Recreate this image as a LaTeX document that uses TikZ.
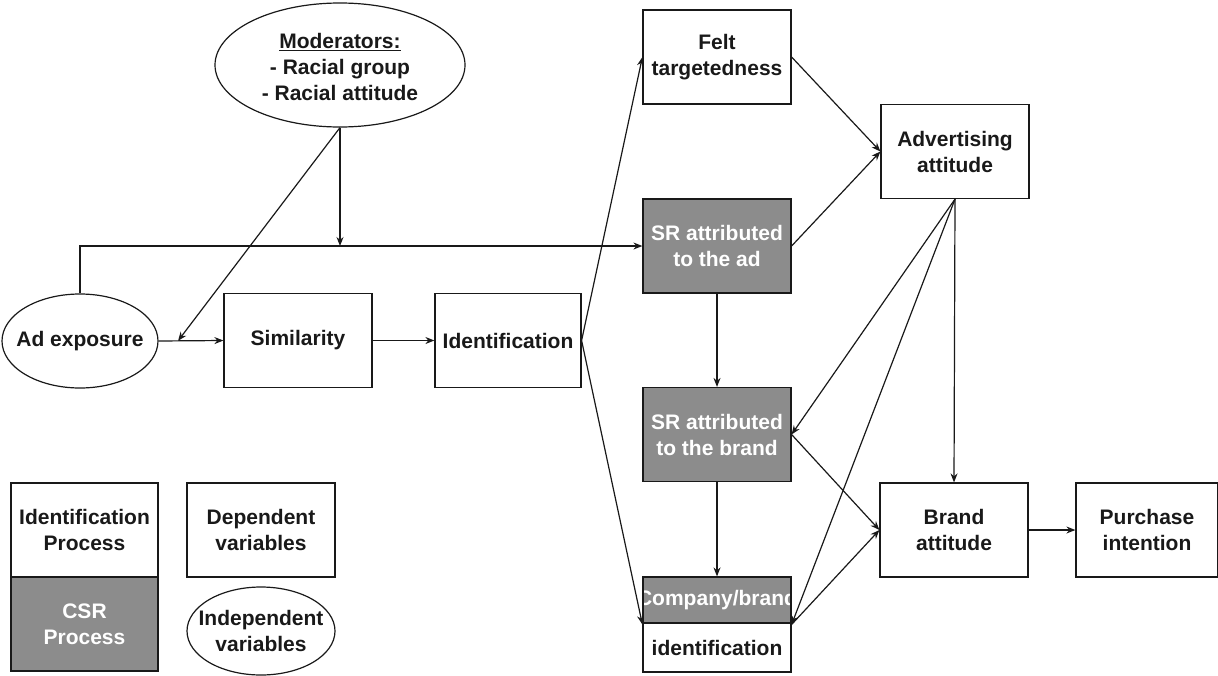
\documentclass[tikz,border=0pt]{standalone}
\usepackage{fontspec}
\setmainfont{Liberation Sans}
\usetikzlibrary{shapes.geometric,arrows.meta,calc}
\definecolor{boxgray}{RGB}{140,140,140}
\definecolor{ink}{RGB}{25,25,25}
\begin{document}
\begin{tikzpicture}[x=1pt,y=-1pt,
  font=\fontsize{21}{26}\selectfont\bfseries,
  every node/.style={text=ink},
  box/.style={draw=ink, line width=1.2pt, rectangle, minimum width=148pt, minimum height=94pt, inner sep=0pt, align=center},
  shaded/.style={box, fill=boxgray, text=white},
  oval/.style={draw=ink, line width=1.2pt, ellipse, inner sep=0pt},
  label/.style={align=center, inner sep=0pt},
  link/.style={draw=ink, line width=1.2pt, -{Stealth[length=9pt,width=7pt]}},
  plain/.style={draw=ink, line width=1.2pt}]
\useasboundingbox (0,0) rectangle (1218,675);

% main model (ovals drawn empty, their texts set on top)
\node[oval, minimum width=250pt, minimum height=124pt] (mod) at (340,65) {};
\node[label] (modtext) at (340,67)
  {\underline{Moderators:}\\- Racial group\\- Racial attitude};
\node[oval, minimum width=156pt, minimum height=94pt] (adexp) at (80,341) {};
\node[label] (adexptext) at (80,341) {Ad exposure};
\node[box] (sim) at (298,340.5) {Similarity};
\node[box, minimum width=146pt] (ident) at (508,340.5) {Identification};
\node[box] (felt) at (717,57) {Felt\\targetedness};
\node[shaded] (srad) at (717,246) {SR attributed\\to the ad};
\node[shaded] (srbrand) at (717,434.5) {SR attributed\\to the brand};
\node[box] (adv) at (955,151.5) {Advertising\\attitude};
\node[box] (brand) at (954,530) {Brand\\attitude};
\node[box, minimum width=142pt] (purch) at (1147,530) {Purchase\\intention};

% company/brand identification: grey upper band, white lower band
\fill[boxgray] (643,577) rectangle (791,623);
\begin{scope}
  \clip (643,577) rectangle (791,623);
  \node[text=white] (cbtop) at (717,600) {Company/brand};
\end{scope}
\node[box, minimum height=95pt] (cbi) at (717,624.5) {};
\draw[plain] (643,623) -- (791,623);
\node (cbbot) at (717,648) {identification};

% legend
\node[box, minimum width=147pt] (idproc) at (84.5,530) {Identification\\Process};
\node[shaded, minimum width=147pt] (csr) at (84.5,624) {CSR\\Process};
\node[box] (dep) at (261,530) {Dependent\\variables};
\node[oval, minimum width=148pt, minimum height=88pt] (indep) at (261,631) {};
\node[label] (indeptext) at (261,631) {Independent\\variables};

% connectors
\coordinate (j1) at (mod.south |- srad.west);
\coordinate (j2) at ($(adexp.east)!0.3!(sim.west)$);
\draw[link] (adexp.north) |- (srad.west);
\draw[link] (mod.south) -- (j1);
\draw[link] (mod.south) -- (j2);
\draw[link] (adexp.east) -- (sim.west);
\draw[link] (sim.east) -- (ident.west);
\draw[link] (ident.east) -- (felt.west);
\draw[link] (ident.east) -- (cbi.west);
\draw[link] (felt.east) -- (adv.west);
\draw[link] (srad.east) -- (adv.west);
\draw[link] (srad.south) -- (srbrand.north);
\draw[link] (srbrand.south) -- (cbi.north);
\draw[link] (adv.south) -- (brand.north);
\draw[link] (adv.south) -- (srbrand.east);
\draw[link] (adv.south) -- (cbi.east);
\draw[link] (srbrand.east) -- (brand.west);
\draw[link] (cbi.east) -- (brand.west);
\draw[link] (brand.east) -- (purch.west);
\end{tikzpicture}
\end{document}
